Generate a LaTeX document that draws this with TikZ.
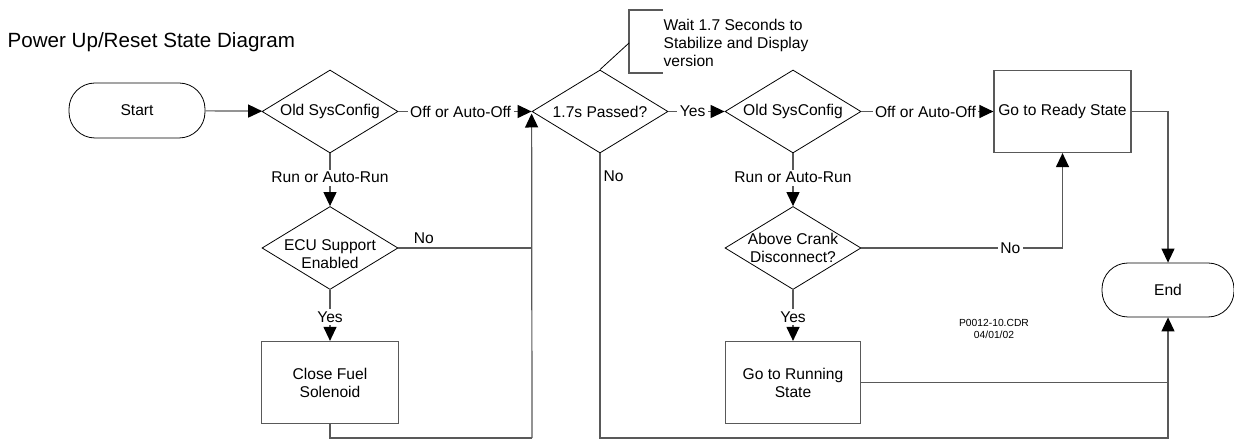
\documentclass[tikz,border=0pt]{standalone}
\usepackage{fontspec}
\setmainfont{Liberation Sans}
\usetikzlibrary{shapes.geometric, arrows.meta}
\definecolor{linegray}{gray}{0.35}

\begin{document}
\begin{tikzpicture}[x=1pt, y=-1pt,
	font=\fontsize{15.6}{18}\selectfont,
	line width=1.2pt, linegray, text=black,
	term/.style={draw=black, line width=0.8pt, rounded corners=26pt, minimum width=136pt, minimum height=55pt},
	dia/.style 2 args={diamond, draw=black, line width=0.8pt, minimum width=136pt, minimum height=83pt, inner sep=0pt, label={[align=center, #2]center:#1}},
	box/.style={draw, minimum width=137pt, minimum height=82pt, inner sep=0pt, align=center},
	arr/.style={-{Triangle[length=14pt, width=13pt, color=black]}},
	lbl/.style={fill=white, inner sep=2.5pt}]
	\useasboundingbox (0,0) rectangle (1234,443);
	\node[anchor=base west, inner sep=0pt, font=\fontsize{20.6}{24}\selectfont] (title) at (7,48) {Power Up/Reset State Diagram};

	\node[term] (start) at (137,110.5) {Start};
	\node[dia={Old SysConfig}{}] (cfg1) at (330,111.5) {};
	\node[dia={1.7s Passed?}{}] (pass) at (600,111.5) {};
	\node[dia={Old SysConfig}{}] (cfg2) at (793,111.5) {};
	\node[box] (ready) at (1062.5,111.5) {Go to Ready State};
	\node[dia={ECU Support\\Enabled}{yshift=-6pt}] (ecu) at (330,248) {};
	\node[dia={Above Crank\\Disconnect?}{}] (crank) at (793,248) {};
	\node[box] (fuel) at (330,382.5) {Close Fuel\\Solenoid};
	\node[box, minimum width=135pt] (run) at (793,382.5) {Go to Running\\State};
	\node[term, minimum width=132pt, minimum height=54pt] (end) at (1168,290) {End};
	\node[align=center, font=\fontsize{10.3}{12}\selectfont] (ref) at (994,329) {P0012-10.CDR\\04/01/02};

	\node[anchor=west, align=left, inner sep=0pt] (note) at (663,43) {Wait 1.7 Seconds to\\Stabilize and Display\\version};
	\coordinate (brk) at (629,43);
	\draw (663,10) -| (brk) |- (663,73);
	\draw[black, line width=0.8pt] (pass.north) -- (brk);

	\draw[arr] (start) -- (cfg1);
	\draw[arr] (cfg1) -- node[lbl, pos=0.467] {Off or Auto-Off} (pass);
	\draw[arr] (pass) -- node[lbl, pos=0.43] {Yes} (cfg2);
	\draw[arr] (cfg2) -- node[lbl, pos=0.485] {Off or Auto-Off} (ready);
	\draw[arr] (cfg1) -- node[lbl, pos=0.46] {Run or Auto-Run} (ecu);
	\draw[arr] (ecu) -- node[lbl, pos=0.53] {Yes} (fuel);
	\draw[arr] (cfg2) -- node[lbl, pos=0.46] {Run or Auto-Run} (crank);
	\draw[arr] (crank) -- node[lbl, pos=0.53] {Yes} (run);
	\draw[arr] (crank.east) -| node[lbl, pos=0.37] {No} (ready.south);

	\coordinate (bot) at (532,438);
	\draw (ecu.east) -- node[above, pos=0.19] {No} (ecu.east -| bot);
	\draw (fuel.south) |- (bot);
	\draw[arr, shorten >=2pt] (bot) -- (pass.west);
	\draw[arr] (pass.south) |- node[right, pos=0.04, inner sep=3pt] {No} (bot -| end.south) -- (end.south);
	\draw (run.east) -- (run.east -| end.south);
	\draw[arr] (ready.east) -| (end.north);
\end{tikzpicture}
\end{document}
